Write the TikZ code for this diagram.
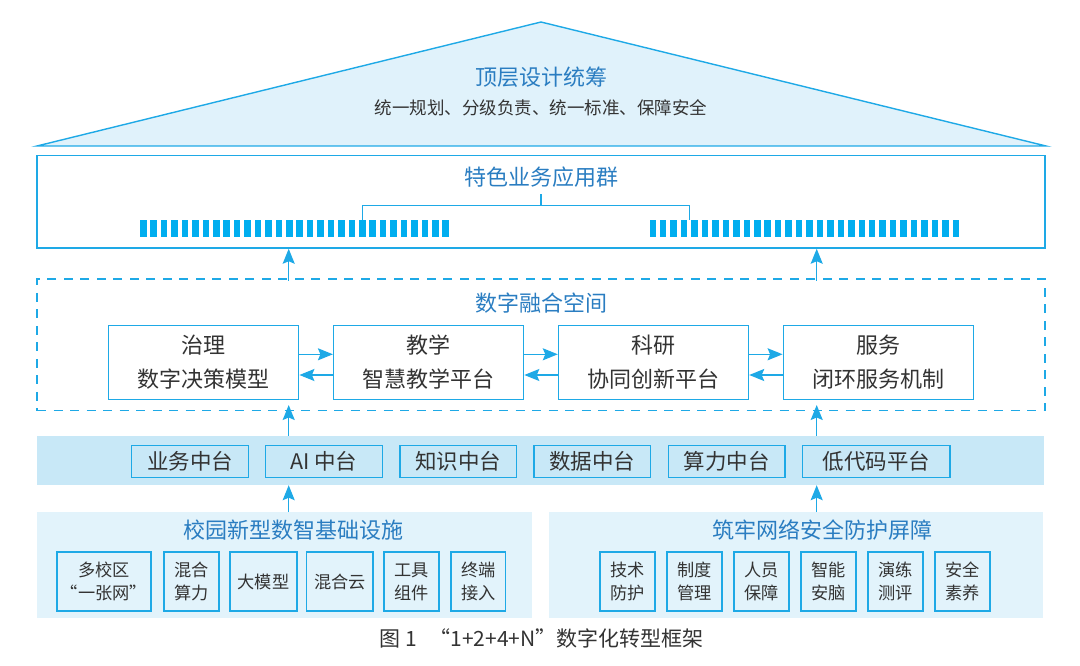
\documentclass[tikz,border=0pt]{standalone}
\usepackage{fontspec}
\setmainfont{Noto Sans CJK SC}
\usetikzlibrary{arrows.meta,calc}
\definecolor{lineblue}{HTML}{1EA9E6}
\definecolor{barblue}{HTML}{00AEEF}
\definecolor{titleblue}{HTML}{2A7DC1}
\definecolor{darktext}{HTML}{333333}
\definecolor{trifill}{HTML}{E0F2FB}
\definecolor{bandfill}{HTML}{C8E8F7}
\definecolor{panelfill}{HTML}{E2F3FB}
\tikzset{
  blueline/.style={draw=lineblue, line width=1.4pt},
  outerbox/.style={blueline, rectangle, inner sep=0pt},
  dashbox/.style={draw=lineblue, line width=1.4pt, dash pattern=on 9pt off 7.5pt, inner sep=0pt},
  titletxt/.style={text=titleblue, font=\fontsize{22}{26}\selectfont, inner sep=0pt},
  subtxt/.style={text=darktext, font=\fontsize{17.5}{22}\selectfont, inner sep=0pt},
  areabox/.style={blueline, fill=white, minimum width=190pt, minimum height=74pt, inner sep=0pt,
     text=darktext, align=center, font=\fontsize{22}{34}\selectfont},
  band/.style={fill=bandfill, draw=none, inner sep=0pt},
  platbox/.style={blueline, fill=bandfill, minimum height=31.6pt, inner sep=0pt,
     text=darktext, font=\fontsize{21.5}{26}\selectfont},
  panel/.style={fill=panelfill, draw=none, inner sep=0pt, minimum height=106pt},
  itembox/.style={draw=lineblue, line width=1.8pt, fill=panelfill, minimum height=58.7pt, inner sep=0pt,
     text=darktext, align=center, font=\fontsize{17.2}{22.6}\selectfont},
  arr/.style={draw=lineblue, line width=1.5pt, -{Stealth[length=15pt,width=12pt,inset=2.5pt]}},
  bar/.style={fill=barblue, draw=none},
  captxt/.style={text=darktext, font=\fontsize{21}{26}\selectfont, inner sep=0pt}
}
\begin{document}
\begin{tikzpicture}[x=1pt,y=-1pt]
\useasboundingbox (0,0) rectangle (1080,666);

% roof
\draw[draw=lineblue, line width=1.4pt, fill=trifill, line join=miter] (37,146) -- (541,22) -- (1046,146) -- cycle;
\node[titletxt] (roofT) at (541,77) {顶层设计统筹};
\node[subtxt] (roofS) at (541,107.5) {统一规划、分级负责、统一标准、保障安全};

% application group
\node[outerbox, minimum width=1008pt, minimum height=92.3pt] (apps) at (541,201.9) {};
\node[titletxt] (appsT) at (541,176.7) {特色业务应用群};
\foreach \i in {0,...,29} {
  \fill[bar] ({140+\i*10.43},220) rectangle +(6.5,16.7);
  \fill[bar] ({649.5+\i*10.45},220) rectangle +(6.5,16.7);
}
\coordinate (bl) at (362.5,220);
\coordinate (br) at (689.3,220);
\coordinate (bm) at (541,205.5);
\draw[draw=lineblue, line width=1.2pt] (bl) |- (bm) -| (br);
\draw[draw=lineblue, line width=1.2pt] (bm) -- (541,194.5);

% digital fusion space
\node[dashbox, minimum width=1008pt, minimum height=131.7pt] (space) at (541,344.85) {};
\node[titletxt] (spaceT) at (541,303.3) {数字融合空间};
\node[areabox] (gov) at (203.7,362.3) {治理\\数字决策模型};
\node[areabox] (teach) at (428.6,362.3) {教学\\智慧教学平台};
\node[areabox] (res) at (653.5,362.3) {科研\\协同创新平台};
\node[areabox] (serv) at (878.3,362.3) {服务\\闭环服务机制};

\foreach \a/\b in {gov/teach, teach/res, res/serv} {
  \draw[arr] ($(\a.east)+(0,-8)$) -- ($(\b.west)+(0,-8)$);
  \draw[arr] ($(\b.west)+(0,12.7)$) -- ($(\a.east)+(0,12.7)$);
}

% platform band
\node[band, minimum width=1007pt, minimum height=49pt] (band) at (540.5,460.5) {};
\node[platbox, minimum width=116.6pt] (p1) at (190,461.5) {业务中台};
\node[platbox, minimum width=116.6pt] (p2) at (323.9,461.5) {AI 中台};
\node[platbox, minimum width=116.6pt] (p3) at (458.2,461.5) {知识中台};
\node[platbox, minimum width=116.6pt] (p4) at (592.1,461.5) {数据中台};
\node[platbox, minimum width=116.6pt] (p5) at (726.5,461.5) {算力中台};
\node[platbox, minimum width=147.3pt] (p6) at (876.4,461.5) {低代码平台};

% infrastructure panels
\node[panel, minimum width=495pt] (infL) at (284.5,565.3) {};
\node[panel, minimum width=494.8pt] (infR) at (796,565.3) {};
\node[titletxt] (infLT) at (293,530) {校园新型数智基础设施};
\node[titletxt] (infRT) at (822.7,530) {筑牢网络安全防护屏障};

\node[itembox, minimum width=94.3pt] (l1) at (103.9,581.7) {多校区\\“一张网”};
\node[itembox, minimum width=55pt] (l2) at (191.8,581.7) {混合\\算力};
\node[itembox, minimum width=66.4pt] (l3) at (263.5,581.7) {大模型};
\node[itembox, minimum width=66.8pt] (l4) at (339.9,581.7) {混合云};
\node[itembox, minimum width=54.4pt] (l5) at (411.5,581.7) {工具\\组件};
\node[itembox, minimum width=54.4pt] (l6) at (478.3,581.7) {终端\\接入};

\node[itembox, minimum width=55pt] (r1) at (627.2,581.7) {技术\\防护};
\node[itembox, minimum width=55pt] (r2) at (694.4,581.7) {制度\\管理};
\node[itembox, minimum width=55pt] (r3) at (761.3,581.7) {人员\\保障};
\node[itembox, minimum width=55pt] (r4) at (828.5,581.7) {智能\\安脑};
\node[itembox, minimum width=55pt] (r5) at (895.5,581.7) {演练\\测评};
\node[itembox, minimum width=55pt] (r6) at (962.5,581.7) {安全\\素养};

% vertical arrows
\coordinate (xl) at (288.7,0);
\coordinate (xr) at (816.7,0);
\draw[arr] ($(space.north -| xl)+(0,2.5)$) -- (apps.south -| xl);
\draw[arr] ($(space.north -| xr)+(0,2.5)$) -- (apps.south -| xr);
\draw[arr] (band.north -| xl) -- ($(gov.south -| xl)+(0,5)$);
\draw[arr] (band.north -| xr) -- ($(serv.south -| xr)+(0,5)$);
\draw[arr] (infL.north -| xl) -- (band.south -| xl);
\draw[arr] (infR.north -| xr) -- (band.south -| xr);

% caption
\node[captxt] (cap) at (541.5,638) {图 1\hspace{0.6em}“1+2+4+N”数字化转型框架};
\end{tikzpicture}
\end{document}
